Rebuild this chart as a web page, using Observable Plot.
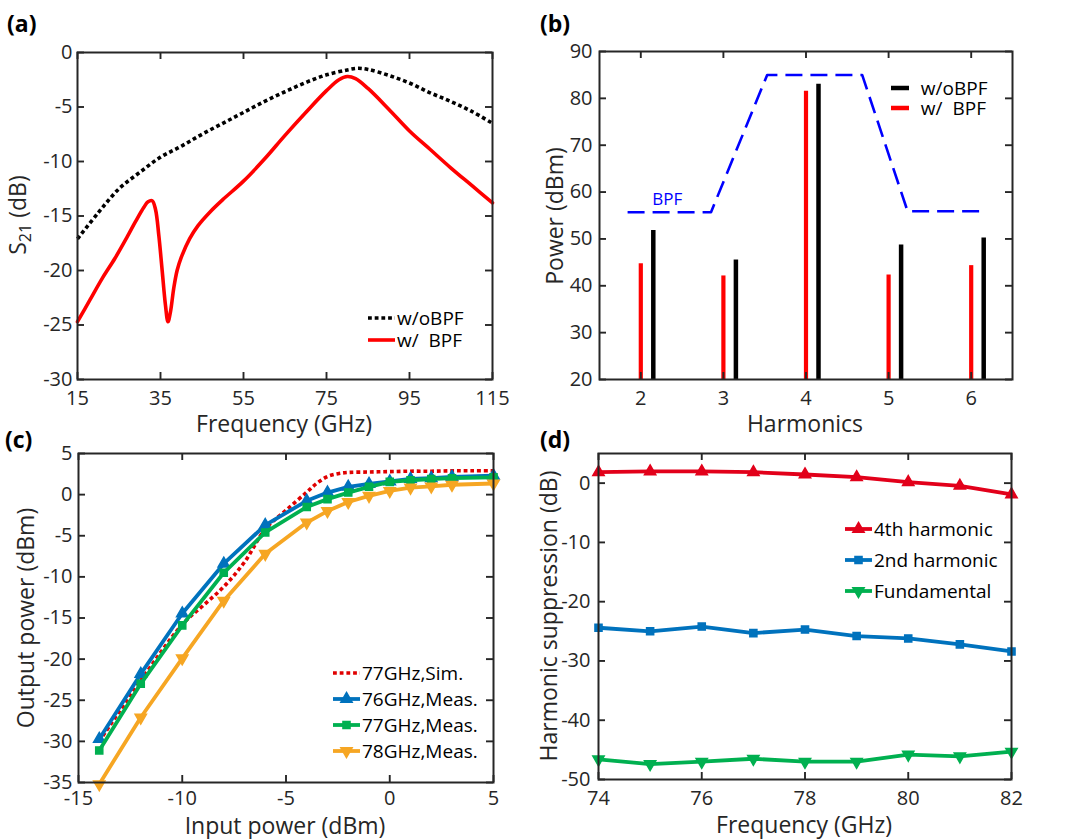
<!DOCTYPE html>
<html><head><meta charset="utf-8">
<script src="https://cdn.jsdelivr.net/npm/d3@7"></script>
<script src="https://cdn.jsdelivr.net/npm/@observablehq/plot@0.6"></script>
<style>
body{margin:0;background:#fff;font-family:"Open Sans",sans-serif;}
#fig{position:relative;width:1080px;height:839px;overflow:hidden;background:#fff;}
.panel{position:absolute;}
.lab{position:absolute;font-weight:bold;font-size:23px;color:#000;line-height:1;}
.ax{position:absolute;font-size:23px;color:#262626;white-space:nowrap;line-height:1;}
.axv{transform:translate(-50%,-50%) rotate(-90deg);}
.axh{transform:translate(-50%,-50%);}
.row{position:absolute;white-space:pre;display:flex;align-items:center;height:20px;font-size:19px;line-height:20px;color:#000;}
.row svg{display:block;}
sub{font-size:70%;vertical-align:-0.35em;line-height:0;}
</style></head>
<body><div id="fig"></div>
<script>
// ---------- (a) S21 ----------
const aFreqBlack = [15,20,25,30,35,40,45,50,55,60,65,70,75,80,82.5,85,90,95,100,105,110,115];
const aWithout   = [-17.1,-14.7,-12.5,-11.0,-9.6,-8.6,-7.5,-6.5,-5.5,-4.5,-3.6,-2.75,-2.05,-1.6,-1.45,-1.55,-2.1,-2.8,-3.7,-4.5,-5.4,-6.5];
const aFreqRed = [15,18,21,24,27,29,31,32,33,33.8,34.6,35.4,36.2,36.8,37.4,38.2,39,40,42,44,47,50,55,60,65,70,75,78,80,82,85,90,95,100,105,110,115];
const aWith    = [-24.7,-22.7,-20.7,-18.9,-16.9,-15.5,-14.2,-13.7,-13.6,-14.4,-16.8,-20.0,-23.2,-24.7,-23.8,-21.6,-20.0,-18.8,-17.1,-15.9,-14.6,-13.5,-11.8,-9.8,-7.6,-5.5,-3.5,-2.5,-2.2,-2.4,-3.3,-5.2,-7.2,-8.9,-10.6,-12.2,-13.8];
const aXTicks = [15,35,55,75,95,115];
const aYTicks = [0,-5,-10,-15,-20,-25,-30];

// ---------- (b) Harmonics ----------
const bHarm = [2,3,4,5,6];
const bWithBPF = [44.7,42.1,81.5,42.3,44.3];
const bWithoutBPF = [51.8,45.5,83.0,48.7,50.2];
const bBpfX = [1.84,2.85,3.53,4.68,5.23,6.15];
const bBpfY = [55.7,55.7,85.0,85.0,55.9,55.9];
const bBpfLabel = [{x:2.32, y:58.3, t:"BPF"}];
const bXTicks = [2,3,4,5,6];
const bYTicks = [20,30,40,50,60,70,80,90];

// ---------- (c) Pout vs Pin ----------
const cPinSim = [-14,-12,-10,-9,-8,-7,-6,-5,-4,-3.5,-3,-2.5,-2,-1,0,1,2,3,4,5];
const cSim    = [-30.0,-22.6,-15.8,-13.5,-11.2,-8.2,-4.2,-1.9,0.3,1.4,2.2,2.55,2.7,2.75,2.8,2.85,2.85,2.9,2.9,2.9];
const cPin = [-14,-12,-10,-8,-6,-4,-3,-2,-1,0,1,2,3,5];
const c76 = [-29.7,-21.8,-14.45,-8.4,-3.7,-0.75,0.25,0.95,1.3,1.6,1.9,2.0,2.15,2.3];
const c77 = [-31.1,-23.0,-15.9,-9.5,-4.6,-1.5,-0.55,0.25,0.95,1.55,1.75,1.9,2.0,2.1];
const c78 = [-35.2,-27.1,-19.9,-12.9,-7.2,-3.4,-2.0,-0.9,-0.15,0.45,0.85,1.0,1.2,1.35];
const cXTicks = [-15,-10,-5,0,5];
const cYTicks = [5,0,-5,-10,-15,-20,-25,-30,-35];

// ---------- (d) Harmonic suppression ----------
const dFreq = [74,75,76,77,78,79,80,81,82];
const d4th = [1.85,1.97,1.97,1.85,1.46,1.0,0.17,-0.45,-1.9];
const d2nd = [-24.4,-25.0,-24.2,-25.3,-24.7,-25.8,-26.2,-27.2,-28.4];
const dFund = [-46.6,-47.4,-47.0,-46.5,-47.0,-47.0,-45.8,-46.1,-45.3];
const dXTicks = [74,76,78,80,82];
const dYTicks = [0,-10,-20,-30,-40,-50];

// ---------- helpers ----------
const INK = "#262626";
const fmt = d => String(d);
const triDown = {draw(ctx, size){ const y = Math.sqrt(size/(Math.sqrt(3)*3)); ctx.moveTo(0, 2*y); ctx.lineTo(-Math.sqrt(3)*y, -y); ctx.lineTo(Math.sqrt(3)*y, -y); ctx.closePath(); }};
const zip = (xs, ys) => xs.map((x,i) => ({x, y: ys[i]}));
const TL = 7; // inward tick length

function axes(xTicks, yTicks, xPad, yPad, innerW, innerH) {
  const c = {color: INK, fontSize: 20, label: null, tickSize: 0};
  const t = {stroke: INK, strokeWidth: 1.9};
  return [
    Plot.axisX(xTicks, {...c, anchor:"bottom", tickPadding:xPad, tickFormat:fmt}),
    Plot.axisY(yTicks, {...c, anchor:"left", tickPadding:yPad, tickFormat:fmt}),
    // inward tick marks on all four sides (MATLAB box style)
    Plot.ruleX(xTicks, {x: d => d, ...t, insetTop: innerH - TL}),
    Plot.ruleX(xTicks, {x: d => d, ...t, insetBottom: innerH - TL}),
    Plot.ruleY(yTicks, {y: d => d, ...t, insetRight: innerW - TL}),
    Plot.ruleY(yTicks, {y: d => d, ...t, insetLeft: innerW - TL}),
    Plot.frame({stroke: INK, strokeWidth: 2})
  ];
}
const fig = document.getElementById("fig");
function place(svg, left, top) {
  const d = document.createElement("div"); d.className = "panel";
  d.style.left = left + "px"; d.style.top = top + "px";
  d.appendChild(svg); fig.appendChild(d);
}
function html(cls, x, y, inner) {
  const d = document.createElement("div"); d.className = cls;
  d.style.left = x + "px"; d.style.top = y + "px"; d.innerHTML = inner; fig.appendChild(d); return d;
}
function legendRow(x, y, len, sample, text) {
  const d = document.createElement("div"); d.className = "row";
  d.style.left = x + "px"; d.style.top = (y - 10) + "px";
  d.innerHTML = `<svg width="${len}" height="20" viewBox="0 0 ${len} 20">${sample}</svg><span style="margin-left:2px">${text}</span>`;
  fig.appendChild(d);
}
function symPath(type, size) { return d3.symbol(type, size)(); }
const style = {fontFamily: '"Open Sans", sans-serif', background: "transparent", overflow: "visible"};
const dotted = {strokeDasharray:"3.8,2.9", strokeLinecap:"butt", strokeLinejoin:"miter"};

function panel(cfg, marks, xt, yt, xPad, yPad) {
  const {width, height, marginLeft, marginRight, marginTop, marginBottom} = cfg;
  const iw = width - marginLeft - marginRight, ih = height - marginTop - marginBottom;
  return Plot.plot({...cfg, style, marks: [...marks, ...axes(xt, yt, xPad, yPad, iw, ih)]});
}

// ---------- (a) ----------
place(panel({
  width: 540, height: 420, marginLeft: 77, marginRight: 48, marginTop: 52, marginBottom: 41,
  x: {domain: [15, 115], axis: null}, y: {domain: [-30, 0], axis: null}
}, [
  Plot.line(zip(aFreqBlack, aWithout), {x:"x", y:"y", stroke:"#000", strokeWidth:3.6, ...dotted, curve:"catmull-rom"}),
  Plot.line(zip(aFreqRed, aWith), {x:"x", y:"y", stroke:"#ff0000", strokeWidth:3.6, curve:"catmull-rom"})
], aXTicks, aYTicks, 11, 5), 0, 0);

// ---------- (b) ----------
place(panel({
  width: 540, height: 420, marginLeft: 59, marginRight: 68, marginTop: 51, marginBottom: 41,
  x: {domain: [1.5, 6.5], axis: null}, y: {domain: [20, 90], axis: null}
}, [
  Plot.line(zip(bBpfX, bBpfY), {x:"x", y:"y", stroke:"#0000ff", strokeWidth:2.6, strokeDasharray:"17,8", strokeLinecap:"butt"}),
  Plot.text(bBpfLabel, {x:"x", y:"y", text:"t", fill:"#0000ff", fontSize:17}),
  Plot.ruleX(zip(bHarm, bWithBPF), {x:"x", y1:20, y2:"y", stroke:"#ff0000", strokeWidth:4.2}),
  Plot.ruleX(zip(bHarm, bWithoutBPF), {x:"x", y1:20, y2:"y", stroke:"#000", strokeWidth:4.5, dx:12.5})
], bXTicks, bYTicks, 11, 7), 540, 0);

// ---------- (c) ----------
const cBlue = "#0072BD", cGreen = "#00B050", cOrange = "#F6A623", cRed = "#E00000";
place(panel({
  width: 540, height: 419, marginLeft: 78, marginRight: 47, marginTop: 33, marginBottom: 57,
  x: {domain: [-15, 5], axis: null}, y: {domain: [-35, 5], axis: null}
}, [
  Plot.line(zip(cPinSim, cSim), {x:"x", y:"y", stroke:cRed, strokeWidth:3.6, ...dotted, curve:"catmull-rom"}),
  Plot.line(zip(cPin, c76), {x:"x", y:"y", stroke:cBlue, strokeWidth:3.8}),
  Plot.dot(zip(cPin, c76), {x:"x", y:"y", symbol:"triangle", r:4.2, fill:cBlue, stroke:cBlue, strokeWidth:1.5}),
  Plot.line(zip(cPin, c77), {x:"x", y:"y", stroke:cGreen, strokeWidth:3.8}),
  Plot.dot(zip(cPin, c77), {x:"x", y:"y", symbol:"square", r:4, fill:cGreen, stroke:cGreen, strokeWidth:1.5}),
  Plot.line(zip(cPin, c78), {x:"x", y:"y", stroke:cOrange, strokeWidth:3.8}),
  Plot.dot(zip(cPin, c78), {x:"x", y:"y", symbol:triDown, r:4.2, fill:cOrange, stroke:cOrange, strokeWidth:1.5})
], cXTicks, cYTicks, 8, 6), 0, 420);

// ---------- (d) ----------
const dRed = "#E2001A", dBlue = "#0072BD", dGreen = "#00B050";
place(panel({
  width: 540, height: 419, marginLeft: 58, marginRight: 69, marginTop: 33, marginBottom: 60,
  x: {domain: [74, 82], axis: null}, y: {domain: [-50, 5], axis: null}
}, [
  Plot.line(zip(dFreq, d4th), {x:"x", y:"y", stroke:dRed, strokeWidth:3.8}),
  Plot.dot(zip(dFreq, d4th), {x:"x", y:"y", symbol:"triangle", r:4.2, fill:dRed, stroke:dRed, strokeWidth:1.5}),
  Plot.line(zip(dFreq, d2nd), {x:"x", y:"y", stroke:dBlue, strokeWidth:3.8}),
  Plot.dot(zip(dFreq, d2nd), {x:"x", y:"y", symbol:"square", r:4, fill:dBlue, stroke:dBlue, strokeWidth:1.5}),
  Plot.line(zip(dFreq, dFund), {x:"x", y:"y", stroke:dGreen, strokeWidth:3.8}),
  Plot.dot(zip(dFreq, dFund), {x:"x", y:"y", symbol:triDown, r:4.2, fill:dGreen, stroke:dGreen, strokeWidth:1.5})
], dXTicks, dYTicks, 11, 8), 540, 420);

// ---------- panel labels & axis titles ----------
html("lab", 7, 12, "(a)");
html("lab", 540, 12, "(b)");
html("lab", 5, 428, "(c)");
html("lab", 540, 428, "(d)");

html("ax axv", 17, 215, "S<sub>21</sub> (dB)");
html("ax axh", 284, 423, "Frequency (GHz)");
html("ax axv", 554, 216, "Power (dBm)");
html("ax axh", 805, 423, "Harmonics");
html("ax axv", 25, 618, "Output power (dBm)");
html("ax axh", 285, 825, "Input power (dBm)");
html("ax axv", 548, 616, "Harmonic suppression (dB)");
html("ax axh", 804, 824, "Frequency (GHz)");

// ---------- legends ----------
const lineS = (len, color, w, dash) => `<line x1="0" y1="10" x2="${len}" y2="10" stroke="${color}" stroke-width="${w}" ${dash ? `stroke-dasharray="${dash}"` : ""}/>`;
const markS = (len, color, type, size) => `<path transform="translate(${len/2},10)" d="${symPath(type, size)}" fill="${color}" stroke="${color}" stroke-width="1.5"/>`;

legendRow(368, 318, 27, lineS(27, "#000", 3.6, "3.8,2.9"), "w/oBPF");
legendRow(368, 340, 27, lineS(27, "#ff0000", 3.6), "w/  BPF");

legendRow(891, 88, 18, lineS(18, "#000", 4.5), "  w/oBPF");
legendRow(891, 108, 18, lineS(18, "#ff0000", 4.5), "  w/  BPF");

const sq = 16*Math.PI, tr = 4.2*4.2*Math.PI;
legendRow(333, 673, 27, lineS(27, cRed, 3.6, "3.8,2.9"), "77GHz,Sim.");
legendRow(333, 699, 27, lineS(27, cBlue, 3.8) + markS(27, cBlue, d3.symbolTriangle, tr), "76GHz,Meas.");
legendRow(333, 725, 27, lineS(27, cGreen, 3.8) + markS(27, cGreen, d3.symbolSquare, sq), "77GHz,Meas.");
legendRow(333, 751, 27, lineS(27, cOrange, 3.8) + markS(27, cOrange, triDown, tr), "78GHz,Meas.");

legendRow(845, 529, 27, lineS(27, dRed, 3.8) + markS(27, dRed, d3.symbolTriangle, tr), "4th harmonic");
legendRow(845, 560, 27, lineS(27, dBlue, 3.8) + markS(27, dBlue, d3.symbolSquare, sq), "2nd harmonic");
legendRow(845, 591, 27, lineS(27, dGreen, 3.8) + markS(27, dGreen, triDown, tr), "Fundamental");
</script>
</body></html>
